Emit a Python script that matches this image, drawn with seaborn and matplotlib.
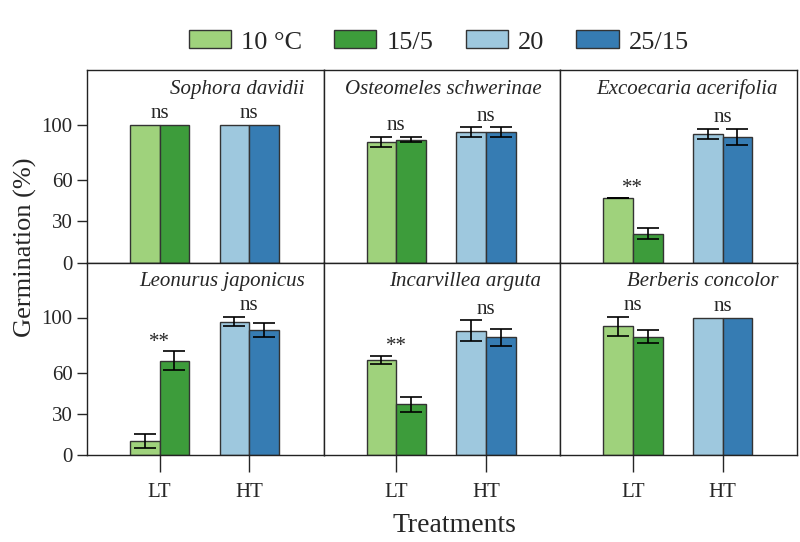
import pandas as pd
import seaborn as sns
import matplotlib.pyplot as plt
from matplotlib.patches import Patch

species = ['Sophora davidii', 'Osteomeles schwerinae', 'Excoecaria acerifolia',
           'Leonurus japonicus', 'Incarvillea arguta', 'Berberis concolor']
temps = ['10 °C', '15/5', '20', '25/15']
treats = ['LT', 'LT', 'HT', 'HT']

# mean germination (%) per species, one list per temperature regime
m10 = [100, 87.5, 46.9, 10.4, 69.3, 93.7]
m15 = [100, 89.4, 20.8, 68.6, 37.0, 86.0]
m20 = [100, 94.7, 93.5, 96.9, 90.3, 100]
m25 = [100, 94.7, 91.3, 91.1, 85.5, 100]
# error bars
e10 = [0, 3.5, 0.3, 5.0, 3.0, 6.8]
e15 = [0, 2.0, 4.0, 7.0, 5.4, 4.7]
e20 = [0, 3.5, 3.9, 3.3, 7.6, 0]
e25 = [0, 3.5, 6.0, 5.0, 6.3, 0]
sig_lt = ['ns', 'ns', '**', '**', '**', 'ns']
sig_ht = ['ns', 'ns', 'ns', 'ns', 'ns', 'ns']

colors = {'10 °C': '#9fd27c', '15/5': '#3d9c3b', '20': '#9ec8de', '25/15': '#367cb3'}

rows = []
for t, tr, ms, es in zip(temps, treats, [m10, m15, m20, m25], [e10, e15, e20, e25]):
    for sp, m, e in zip(species, ms, es):
        rows.append({'species': sp, 'treatment': tr, 'temp': t, 'germ': m, 'err': e})
df = pd.DataFrame(rows)

sns.set_style('ticks')
plt.rcParams['font.family'] = ['Liberation Serif', 'DejaVu Serif']
plt.rcParams['axes.linewidth'] = 1.0
plt.rcParams['axes.edgecolor'] = '#222222'

fig, axes = plt.subplots(2, 3, figsize=(8, 5.42), dpi=100, sharex=True, sharey=True)
fig.subplots_adjust(left=87/800, right=797/800, top=1-70/542, bottom=1-455/542,
                    wspace=0, hspace=0)

for i, (ax, sp) in enumerate(zip(axes.flat, species)):
    d = df[df.species == sp]
    for grp, hues in (('LT', temps[:2]), ('HT', temps[2:])):
        sub = d[d.treatment == grp]
        sns.barplot(data=sub, x='treatment', y='germ', hue='temp',
                    order=['LT', 'HT'], hue_order=hues, palette=colors,
                    saturation=1, width=0.66, edgecolor='#333333', linewidth=1.0,
                    errorbar=None, legend=False, ax=ax)
    # error bars from bar geometry
    tops = {}
    for cont, t in zip(ax.containers, temps):
        row = d[d.temp == t].iloc[0]
        for bar in cont:
            if bar.get_height() <= 0:
                continue
            x = bar.get_x() + bar.get_width() / 2
            if row.err > 0:
                ax.errorbar(x, row.germ, yerr=row.err, color='black', lw=1.2,
                            capsize=8, capthick=1.2, zorder=5)
            tops.setdefault(row.treatment, []).append(row.germ + row.err)
    for k, (grp, lab) in enumerate((('LT', sig_lt[i]), ('HT', sig_ht[i]))):
        off = 3 if lab == '**' else 5
        ax.text(k, max(tops[grp]) + off, lab, ha='center', va='baseline',
                fontsize=15)
    ax.text(0.92, 0.9, sp, transform=ax.transAxes, ha='right', va='center',
            style='italic', fontsize=15)
    ax.set_xlabel('')
    ax.set_ylabel('')
    ax.set_xlim(-0.81, 1.83)
    ax.set_ylim(0, 140)
    ax.set_yticks([0, 30, 60, 100])
    for s in ax.spines.values():
        s.set_visible(True)
    ax.tick_params(axis='y', length=7, width=1.0, labelsize=15, direction='out')
    ax.tick_params(axis='x', length=12, width=1.0, labelsize=15, direction='out', pad=8)
    if i < 3:
        ax.tick_params(axis='x', bottom=False, labelbottom=False)
    if i % 3 != 0:
        ax.tick_params(axis='y', left=False, labelleft=False)

fig.text(25/800, 1-247/542, 'Germination (%)', rotation=90, ha='center', va='center',
         fontsize=19)
fig.text(454/800, 1-526/542, 'Treatments', ha='center', va='center', fontsize=20)

handles = [Patch(facecolor=colors[t], edgecolor='#333333', linewidth=1.0) for t in temps]
fig.legend(handles, temps, ncol=4, loc='center', bbox_to_anchor=(439/800, 1-42/542),
           frameon=False, fontsize=19, handlelength=1.6, handleheight=0.65,
           handletextpad=0.4, columnspacing=1.2)

fig.savefig('out.png', dpi=100)
